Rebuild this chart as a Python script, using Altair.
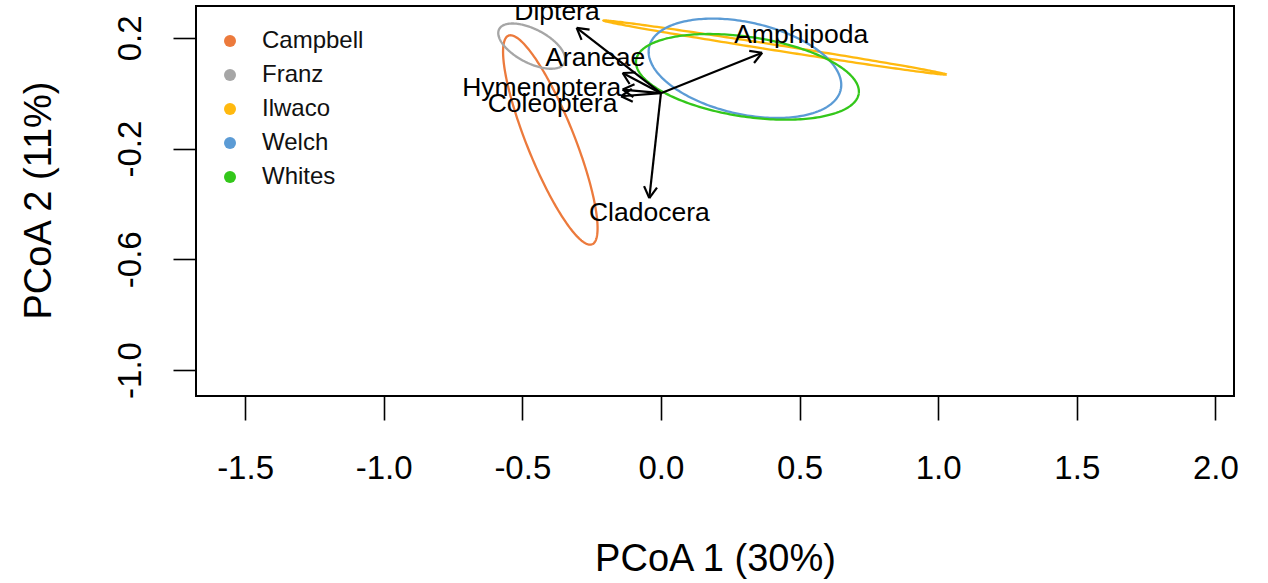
import altair as alt
import numpy as np
import pandas as pd

# ---- data ----
groups = ["Campbell", "Franz", "Ilwaco", "Welch", "Whites"]
colors = ["#EC7A3C", "#A6A6A6", "#FFB90F", "#5B9BD5", "#33C71A"]
center_x = [-0.399, -0.466, 0.411, 0.303, 0.312]
center_y = [-0.169, 0.170, 0.165, 0.090, 0.059]
semi_major = [0.406, 0.1325, 0.626, 0.354, 0.406]
semi_minor = [0.0856, 0.061, 0.010, 0.166, 0.144]
angle_deg = [-68.2, -27.6, -8.95, -12.6, -8.6]

species = ["Diptera", "Araneae", "Hymenoptera", "Coleoptera", "Cladocera", "Amphipoda"]
tip_x = [-0.304, -0.138, -0.138, -0.144, -0.042, 0.365]
tip_y = [0.236, 0.073, 0.013, -0.011, -0.379, 0.146]
label_x = [-0.375, -0.237, -0.430, -0.391, -0.042, 0.506]
label_y = [0.295, 0.128, 0.019, -0.038, -0.433, 0.209]

x_ticks = [-1.5, -1.0, -0.5, 0.0, 0.5, 1.0, 1.5, 2.0]
y_ticks = [0.2, -0.2, -0.6, -1.0]
x_domain = [-1.677, 2.067]
y_domain = [-1.094, 0.315]

FONT = "Liberation Sans"
W, H = 1038, 390

# ---- ellipse outlines from centre / axes / angle ----
rows = []
t = np.linspace(0, 2 * np.pi, 241)
for g, cx, cy, a, b, ang in zip(groups, center_x, center_y, semi_major, semi_minor, angle_deg):
    p = np.deg2rad(ang)
    xs = cx + a * np.cos(t) * np.cos(p) - b * np.sin(t) * np.sin(p)
    ys = cy + a * np.cos(t) * np.sin(p) + b * np.sin(t) * np.cos(p)
    for i, (xv, yv) in enumerate(zip(xs, ys)):
        rows.append({"group": g, "i": i, "x": xv, "y": yv})
ell = pd.DataFrame(rows)

arrows = pd.DataFrame({"name": species, "x0": 0.0, "y0": 0.0, "tx": tip_x, "ty": tip_y})

head_len = 0.047
head_ang = np.deg2rad(30)
hrows = []
for n, tx, ty in zip(species, tip_x, tip_y):
    th = np.arctan2(ty, tx)
    for s in (1, -1):
        hrows.append({"name": n, "hx": tx, "hy": ty,
                      "hx2": tx - head_len * np.cos(th + s * head_ang),
                      "hy2": ty - head_len * np.sin(th + s * head_ang)})
heads = pd.DataFrame(hrows)

labels = pd.DataFrame({"name": species, "lx": label_x, "ly": label_y})
legend_df = pd.DataFrame({"site": groups})

xscale = alt.Scale(domain=x_domain, nice=False, zero=False)
yscale = alt.Scale(domain=y_domain, nice=False, zero=False)

xaxis = alt.Axis(values=x_ticks, title="PCoA 1 (30%)", grid=False, domain=False,
                 labelExpr="(datum.value < 0 ? '-' : '') + format(abs(datum.value), '.1f')",
                 tickSize=24, tickWidth=1.6, tickColor="black",
                 labelFontSize=33, labelFont=FONT, labelColor="black", labelPadding=32,
                 labelFlush=False, labelOverlap=False,
                 titleFontSize=38, titleFont=FONT, titleFontWeight="normal", titleColor="black",
                 titleBaseline="alphabetic", titleY=174)
yaxis = alt.Axis(values=y_ticks, title="PCoA 2 (11%)", grid=False, domain=False,
                 labelExpr="(datum.value < 0 ? '-' : '') + format(abs(datum.value), '.1f')",
                 tickSize=23, tickWidth=1.6, tickColor="black",
                 labelFontSize=33, labelFont=FONT, labelColor="black", labelPadding=33,
                 labelAngle=-90, labelAlign="center", labelBaseline="alphabetic",
                 labelFlush=False, labelOverlap=False,
                 titleFontSize=38, titleFont=FONT, titleFontWeight="normal", titleColor="black",
                 titleAngle=-90, titleBaseline="alphabetic", titleX=-146, titleY=194)

ellipses = alt.Chart(ell).mark_line(strokeWidth=2.3).encode(
    x=alt.X("x:Q", scale=xscale, axis=xaxis),
    y=alt.Y("y:Q", scale=yscale, axis=yaxis),
    stroke=alt.Stroke("group:N", scale=alt.Scale(domain=groups, range=colors), legend=None),
    detail="group:N",
    order="i:Q",
)

arrow_lines = alt.Chart(arrows).mark_rule(color="black", strokeWidth=2.2).encode(
    x="x0:Q", y="y0:Q", x2="tx:Q", y2="ty:Q")

arrow_heads = alt.Chart(heads).mark_rule(color="black", strokeWidth=2.2).encode(
    x="hx:Q", y="hy:Q", x2="hx2:Q", y2="hy2:Q")

label_text = alt.Chart(labels).mark_text(
    font=FONT, fontSize=26.5, color="black", baseline="middle", align="center", clip=True
).encode(x="lx:Q", y="ly:Q", text="name:N")

legend_pts = alt.Chart(legend_df).mark_point(filled=True, size=144, shape="circle", opacity=1).encode(
    x=alt.value(-500), y=alt.value(-500),
    fill=alt.Fill("site:N", scale=alt.Scale(domain=groups, range=colors),
                  legend=alt.Legend(title=None, orient="none", legendX=22, legendY=23,
                                    symbolType="circle", symbolSize=144, symbolStrokeWidth=0,
                                    labelFont=FONT, labelFontSize=24, labelColor="#111111",
                                    labelOffset=20, rowPadding=10, padding=0)),
)

box = alt.Chart(legend_df.head(1)).mark_rect(fill=None, stroke="black", strokeWidth=2).encode(
    x=alt.value(0), x2=alt.value(W), y=alt.value(0), y2=alt.value(H))

chart = alt.layer(ellipses, arrow_lines, arrow_heads, label_text, legend_pts, box).resolve_scale(
    fill="independent", stroke="independent"
).properties(
    width=W, height=H,
    autosize=alt.AutoSizeParams(type="none"),
    padding={"left": 196, "top": 6, "right": 34, "bottom": 187},
).configure_view(stroke=None).configure(background="white")

chart.save("out.html", embed_options={"renderer": "svg", "actions": False})
